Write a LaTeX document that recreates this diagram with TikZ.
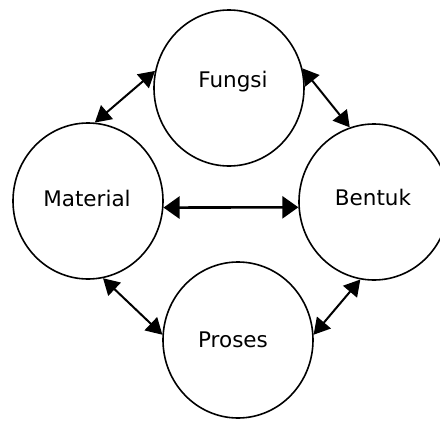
\documentclass[tikz,border=0pt]{standalone}
\usepackage{fontspec}
\setmainfont{DejaVu Sans}
\usetikzlibrary{arrows.meta,shapes.geometric}
\tikzset{
  topic/.style={ellipse, draw=black, line width=1.6pt, minimum width=150pt,
    minimum height=156pt, inner sep=0pt},
  topictext/.style={font=\fontsize{21.5}{25}\selectfont},
  link/.style={line width=2pt, {Triangle[length=16pt,width=18pt]}-{Triangle[length=16pt,width=18pt]}},
  mainlink/.style={line width=2.6pt, {Triangle[length=16pt,width=22pt]}-{Triangle[length=16pt,width=22pt]}}
}
\begin{document}
\begin{tikzpicture}[x=1pt,y=-1pt]
  \useasboundingbox (0,0) rectangle (440,421);
  \clip (0,0) rectangle (440,421);
  \fill[white] (0,0) rectangle (440,421);

  % the four topics
  \node[topic, label={[topictext, xshift=4pt, yshift=6pt]center:Fungsi}]   (fungsi)   at (229,88)  {};
  \node[topic, label={[topictext, xshift=-1pt, yshift=3pt]center:Material}] (material) at (88,201)  {};
  \node[topic, label={[topictext, xshift=-1pt, yshift=5pt]center:Bentuk}]   (bentuk)   at (374,202) {};
  \node[topic, label={[topictext, xshift=-5pt, yshift=0pt]center:Proses}]   (proses)   at (238,340) {};

  % two-way links between the topics
  \draw[link] (material.85)  -- (fungsi.167);
  \draw[link] (fungsi.15)    -- (bentuk.108);
  \draw[mainlink] (material.-5) -- (bentuk.184.5);
  \draw[link] (material.-79) -- (proses.176);
  \draw[link] (bentuk.260)   -- (proses.4.6);
\end{tikzpicture}
\end{document}
